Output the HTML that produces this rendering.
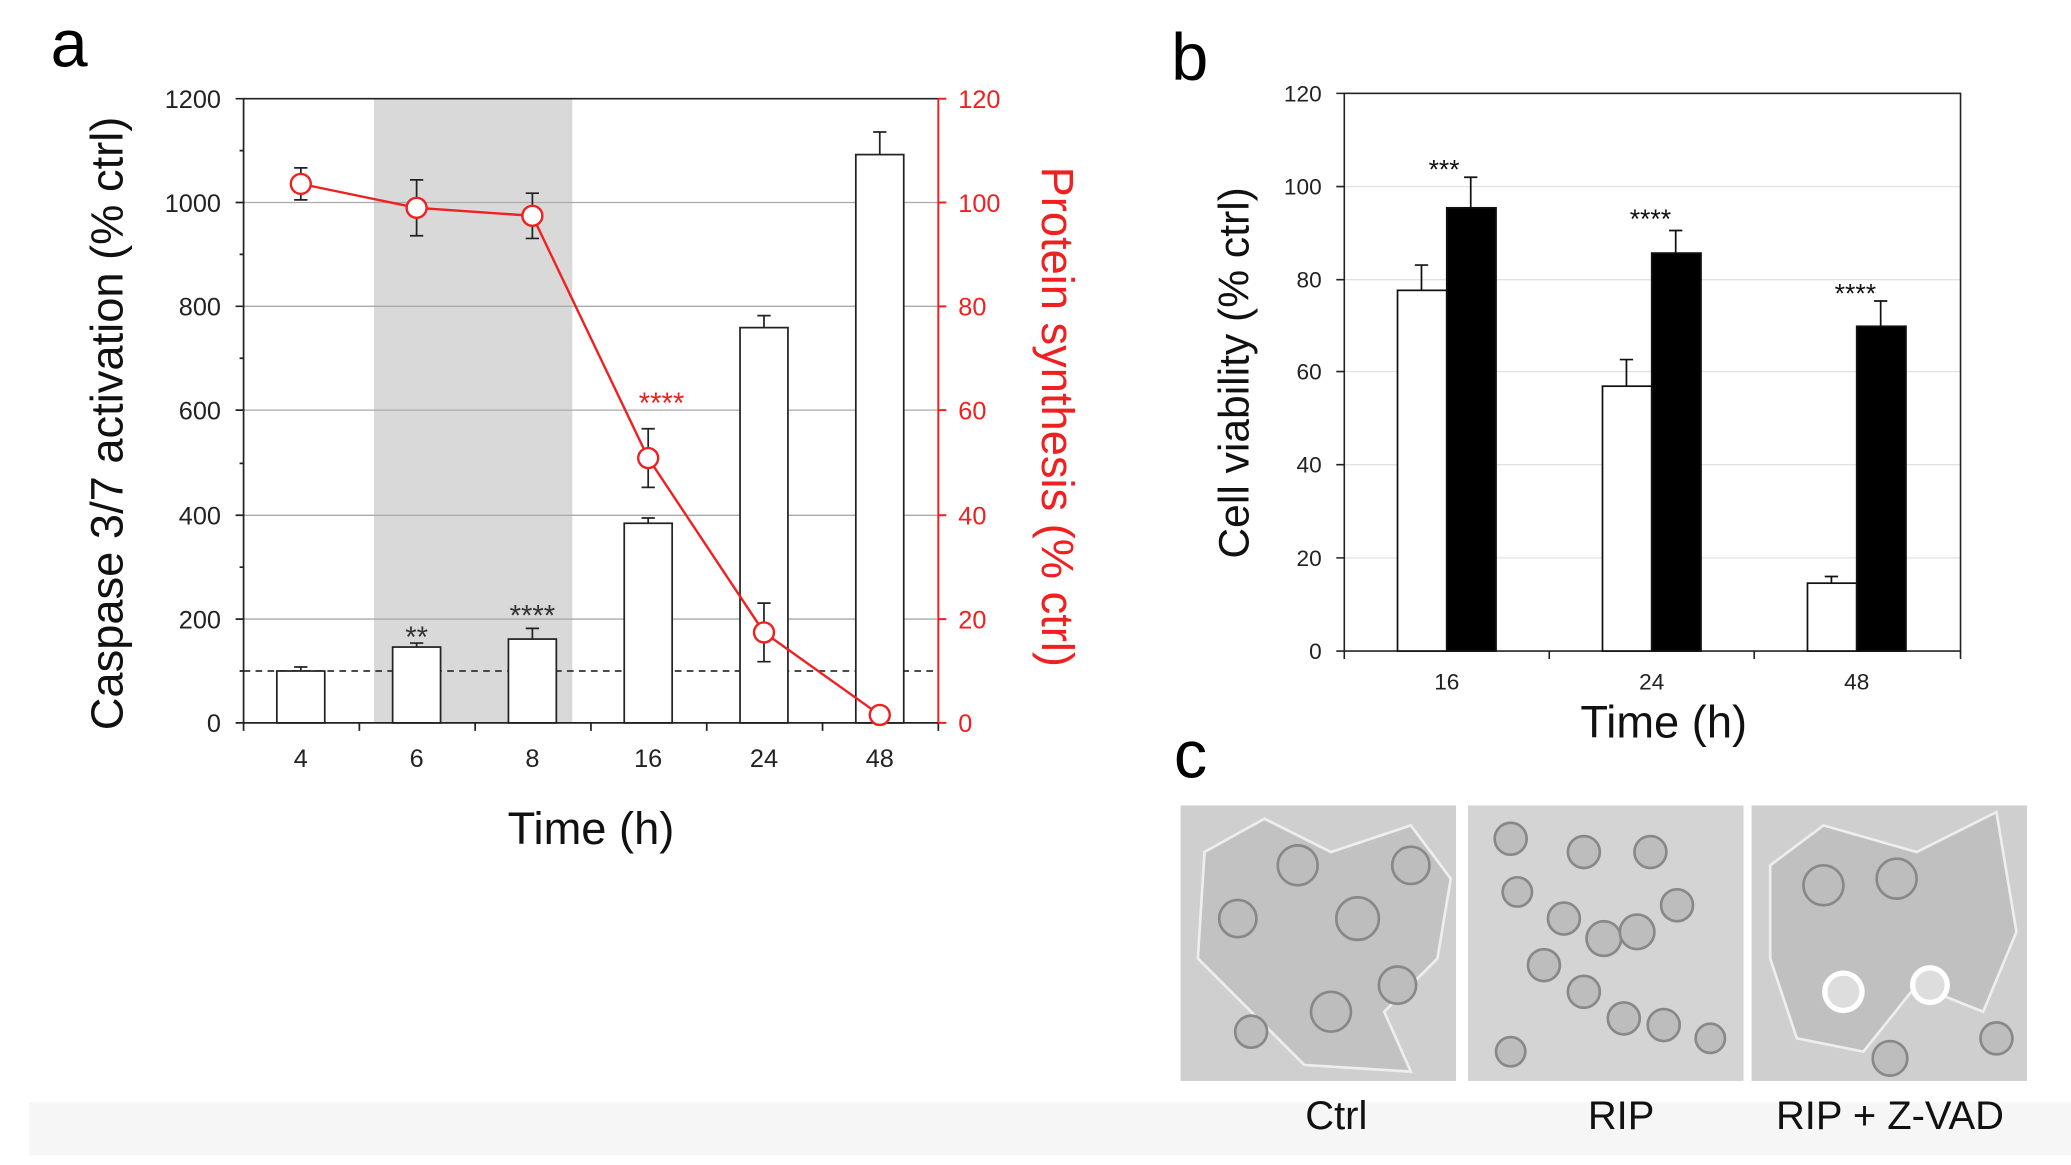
<!DOCTYPE html>
<html><head><meta charset="utf-8"><style>html,body{margin:0;padding:0;background:#fff}svg{display:block}</style></head><body>
<svg width="2071" height="1165" viewBox="0 0 1556 875" xmlns="http://www.w3.org/2000/svg" font-family="Liberation Sans, Arial, sans-serif">
<rect x="22" y="828" width="1534" height="40" fill="#f6f6f6"/>
<!-- Panel a -->
<text x="38" y="50" font-size="50">a</text>
<rect x="281" y="74" width="149" height="469" fill="#d9d9d9"/>
<g stroke="#aaa" stroke-width="1">
<line x1="183" x2="705" y1="465" y2="465"/><line x1="183" x2="705" y1="387" y2="387"/>
<line x1="183" x2="705" y1="308" y2="308"/><line x1="183" x2="705" y1="230" y2="230"/>
<line x1="183" x2="705" y1="152" y2="152"/>
</g>
<line x1="183" x2="705" y1="74" y2="74" stroke="#222" stroke-width="1.3"/>
<line x1="183" x2="705" y1="504" y2="504" stroke="#333" stroke-width="1.3" stroke-dasharray="5,4"/>
<g fill="#fff" stroke="#222" stroke-width="1.3">
<rect x="208" y="504" width="36" height="39"/>
<rect x="295" y="486" width="36" height="57"/>
<rect x="382" y="480" width="36" height="63"/>
<rect x="469" y="393" width="36" height="150"/>
<rect x="556" y="246" width="36" height="297"/>
<rect x="643" y="116" width="36" height="427"/>
</g>
<g stroke="#222" stroke-width="1.3">
<path d="M226 504V501M221 501H231"/>
<path d="M313 486V483M308 483H318"/>
<path d="M400 480V472M395 472H405"/>
<path d="M487 393V389M482 389H492"/>
<path d="M574 246V237M569 237H579"/>
<path d="M661 116V99M656 99H666"/>
</g>
<!-- axes a -->
<g stroke="#222" stroke-width="1.3">
<line x1="183" y1="74" x2="183" y2="543"/><line x1="183" y1="543" x2="705" y2="543"/>
<path d="M177 543H183M177 465H183M177 387H183M177 308H183M177 230H183M177 152H183M177 74H183M180 504H183M180 426H183M180 348H183M180 269H183M180 191H183M180 113H183"/>
<path d="M183 543V549M270 543V549M357 543V549M444 543V549M531 543V549M618 543V549M705 543V549"/>
</g>
<g font-size="19" text-anchor="end" fill="#222">
<text x="166" y="550">0</text><text x="166" y="472">200</text><text x="166" y="394">400</text><text x="166" y="315">600</text><text x="166" y="237">800</text><text x="166" y="159">1000</text><text x="166" y="81">1200</text>
</g>
<g font-size="19" text-anchor="middle" fill="#222">
<text x="226" y="576">4</text><text x="313" y="576">6</text><text x="400" y="576">8</text><text x="487" y="576">16</text><text x="574" y="576">24</text><text x="661" y="576">48</text>
</g>
<g stroke="#f02020" stroke-width="1.5">
<line x1="705" y1="74" x2="705" y2="543"/>
<path d="M705 543H711M705 465H711M705 387H711M705 308H711M705 230H711M705 152H711M705 74H711"/>
</g>
<g font-size="19" fill="#f02020">
<text x="720" y="550">0</text><text x="720" y="472">20</text><text x="720" y="394">40</text><text x="720" y="315">60</text><text x="720" y="237">80</text><text x="720" y="159">100</text><text x="720" y="81">120</text>
</g>
<g stroke="#222" stroke-width="1.3">
<path d="M226 126V150M221 126H231M221 150H231"/>
<path d="M313 135V177M308 135H318M308 177H318"/>
<path d="M400 145V179M395 145H405M395 179H405"/>
<path d="M487 322V366M482 322H492M482 366H492"/>
<path d="M574 453V497M569 453H579M569 497H579"/>
</g>
<polyline points="226,138 313,156 400,162 487,344 574,475 661,537" fill="none" stroke="#f02020" stroke-width="1.8"/>
<g fill="#fff" stroke="#f02020" stroke-width="1.8">
<circle cx="226" cy="138" r="7.5"/><circle cx="313" cy="156" r="7.5"/><circle cx="400" cy="162" r="7.5"/><circle cx="487" cy="344" r="7.5"/><circle cx="574" cy="475" r="7.5"/><circle cx="661" cy="537" r="7.5"/>
</g>
<text x="313" y="486" font-size="22" text-anchor="middle" fill="#333">**</text>
<text x="400" y="470" font-size="22" text-anchor="middle" fill="#333">****</text>
<text x="497" y="310" font-size="22" text-anchor="middle" fill="#f02020">****</text>
<text x="444" y="634" font-size="34" text-anchor="middle" fill="#111">Time (h)</text>
<text transform="translate(92,318) rotate(-90)" font-size="34" text-anchor="middle" fill="#111">Caspase 3/7 activation (% ctrl)</text>
<text transform="translate(783,313) rotate(90)" font-size="34" text-anchor="middle" fill="#f02020">Protein synthesis (% ctrl)</text>
<!-- Panel b -->
<text x="880" y="60" font-size="50">b</text>
<g stroke="#e2e2e2" stroke-width="1">
<path d="M1010 419H1473M1010 349H1473M1010 279H1473M1010 210H1473M1010 140H1473"/>
</g>
<rect x="1010" y="70" width="463" height="419" fill="none" stroke="#222" stroke-width="1.2"/>
<g stroke="#222" stroke-width="1.2">
<path d="M1004 489H1010M1004 419H1010M1004 349H1010M1004 279H1010M1004 210H1010M1004 140H1010M1004 70H1010"/>
<path d="M1010 489V495M1164 489V495M1318 489V495M1473 489V495"/>
</g>
<g font-size="17" text-anchor="end" fill="#222">
<text x="993" y="495">0</text><text x="993" y="425">20</text><text x="993" y="355">40</text><text x="993" y="285">60</text><text x="993" y="216">80</text><text x="993" y="146">100</text><text x="993" y="76">120</text>
</g>
<g font-size="17" text-anchor="middle" fill="#222">
<text x="1087" y="518">16</text><text x="1241" y="518">24</text><text x="1395" y="518">48</text>
</g>
<g stroke="#111" stroke-width="1.3">
<rect x="1050" y="218" width="37" height="271" fill="#fff"/>
<rect x="1087" y="156" width="37" height="333" fill="#000"/>
<rect x="1204" y="290" width="37" height="199" fill="#fff"/>
<rect x="1241" y="190" width="37" height="299" fill="#000"/>
<rect x="1358" y="438" width="37" height="51" fill="#fff"/>
<rect x="1395" y="245" width="37" height="244" fill="#000"/>
<path d="M1068 218V199M1063 199H1073M1105 156V133M1100 133H1110M1222 290V270M1217 270H1227M1259 190V173M1254 173H1264M1376 438V433M1371 433H1381M1413 245V226M1408 226H1418"/>
</g>
<g font-size="20" text-anchor="middle" fill="#111">
<text x="1085" y="134">***</text><text x="1240" y="171">****</text><text x="1394" y="227">****</text>
</g>
<text x="1250" y="554" font-size="34" text-anchor="middle" fill="#111">Time (h)</text>
<text transform="translate(938,280) rotate(-90)" font-size="32" text-anchor="middle" fill="#111">Cell viability (% ctrl)</text>
<!-- Panel c -->
<text x="882" y="584" font-size="50">c</text>
<g stroke="#888" stroke-width="2" fill="#bdbdbd">
<rect x="887" y="605" width="207" height="207" fill="#cfcfcf" stroke="none"/>
<path d="M905 640L950 615L1000 640L1060 620L1090 660L1080 720L1040 760L1060 805L980 800L940 760L900 720Z" fill="#c2c2c2" stroke="#eee"/>
<circle cx="930" cy="690" r="14"/><circle cx="975" cy="650" r="15"/><circle cx="1020" cy="690" r="16"/><circle cx="1060" cy="650" r="14"/><circle cx="1000" cy="760" r="15"/><circle cx="1050" cy="740" r="14"/><circle cx="940" cy="775" r="12"/>
<rect x="1103" y="605" width="207" height="207" fill="#d4d4d4" stroke="none"/>
<circle cx="1135" cy="630" r="12"/><circle cx="1190" cy="640" r="12"/><circle cx="1240" cy="640" r="12"/><circle cx="1140" cy="670" r="11"/><circle cx="1175" cy="690" r="12"/><circle cx="1205" cy="705" r="13"/><circle cx="1230" cy="700" r="13"/><circle cx="1160" cy="725" r="12"/><circle cx="1190" cy="745" r="12"/><circle cx="1220" cy="765" r="12"/><circle cx="1250" cy="770" r="12"/><circle cx="1285" cy="780" r="11"/><circle cx="1135" cy="790" r="11"/><circle cx="1260" cy="680" r="12"/>
<rect x="1316" y="605" width="207" height="207" fill="#cfcfcf" stroke="none"/>
<path d="M1330 650L1370 620L1440 640L1500 610L1515 700L1490 760L1440 740L1400 790L1350 780L1330 720Z" fill="#c0c0c0" stroke="#eee"/>
<circle cx="1370" cy="665" r="15"/><circle cx="1425" cy="660" r="15"/><circle cx="1385" cy="745" r="14" fill="#ddd" stroke="#fff" stroke-width="4"/><circle cx="1450" cy="740" r="13" fill="#ddd" stroke="#fff" stroke-width="4"/><circle cx="1420" cy="795" r="13"/><circle cx="1500" cy="780" r="12"/>
</g>
<g font-size="30" text-anchor="middle" fill="#111">
<text x="1004" y="848">Ctrl</text><text x="1218" y="848">RIP</text><text x="1420" y="848">RIP + Z-VAD</text>
</g>
</svg>
</body></html>
